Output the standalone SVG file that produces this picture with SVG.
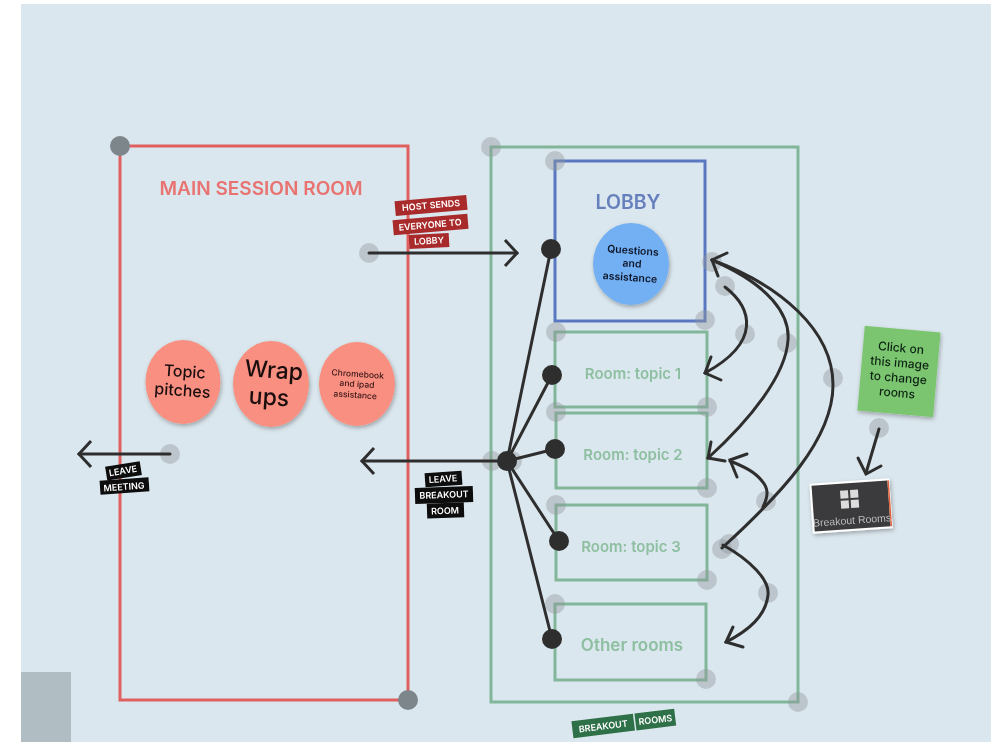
<svg xmlns="http://www.w3.org/2000/svg" width="991" height="742" viewBox="0 0 991 742">
<defs>
<filter id="sh" x="-20%" y="-20%" width="140%" height="140%"><feDropShadow dx="1" dy="2" stdDeviation="2" flood-color="#000" flood-opacity="0.3"/></filter>
<filter id="soft" filterUnits="userSpaceOnUse" x="0" y="0" width="991" height="742"><feGaussianBlur stdDeviation="0.55"/></filter>
<marker id="ah" markerUnits="userSpaceOnUse" markerWidth="34" markerHeight="34" refX="17" refY="17" orient="auto"><path d="M5 4 L17 17 L5 30" fill="none" stroke="#2f2f2f" stroke-width="3"/></marker>
</defs>
<style>
text{font-family:Inter,"Liberation Sans",sans-serif;text-anchor:middle}
.box{fill:none;stroke-width:3}
.g{stroke:#81b798}.r{stroke:#e0605f}
.dot{fill:#8f979c;fill-opacity:.42}
.c{fill:none;stroke:#2f2f2f;stroke-width:3;stroke-linecap:round}
.j{fill:#2f2f2f}
.rt{fill:#8dbfa0;font-size:15px;font-weight:600}
.lb{fill:#fff;font-size:9px;font-weight:600}
.blk{fill:#0a0a0a}.red{fill:#a92a2a}
.cir{fill:#f88f80;filter:url(#sh)}
</style>
<rect width="991" height="742" fill="#fff"/>
<g filter="url(#soft)">
<rect x="21" y="4" width="970" height="738" fill="#dbe7ee"/>
<rect x="21" y="672" width="50" height="70" fill="#b0bec3"/>

<g id="main-room">
<rect class="box r" x="120" y="146" width="288" height="554"/>
<text x="261" y="195" fill="#e8736f" font-size="18" font-weight="600" textLength="203" lengthAdjust="spacingAndGlyphs">MAIN SESSION ROOM</text>
</g>
<g id="topic-pitches"><ellipse class="cir" cx="183" cy="382" rx="37.500" ry="42"/><text transform="rotate(4 182 382)" x="184" y="377" font-size="16" font-weight="500" fill="#1c1010">Topic</text><text transform="rotate(4 182 382)" x="183" y="396" font-size="16" font-weight="500" fill="#1c1010">pitches</text></g>
<g id="wrap-ups"><ellipse class="cir" cx="271" cy="384" rx="38" ry="43"/><text transform="rotate(4 271 384)" x="273" y="378" font-size="23" font-weight="500" fill="#1c1010">Wrap</text><text transform="rotate(4 271 384)" x="270" y="405" font-size="23" font-weight="500" fill="#1c1010">ups</text></g>
<g id="chromebook"><ellipse class="cir" cx="357" cy="384" rx="38" ry="42"/><text transform="rotate(4 357 384)" x="357" y="377" font-size="8.500" font-weight="500" fill="#3a1616">Chromebook</text><text transform="rotate(4 357 384)" x="357" y="387" font-size="8.500" font-weight="500" fill="#3a1616">and ipad</text><text transform="rotate(4 357 384)" x="356" y="398" font-size="8.500" font-weight="500" fill="#3a1616">assistance</text></g>

<g id="breakout-rooms">
<rect class="box g" x="491" y="147" width="307" height="555"/>
<g transform="rotate(-7 623 723)"><rect x="572" y="715" width="62" height="17" fill="#2f6f47"/><rect x="635.500" y="715" width="40" height="17" fill="#2f6f47"/><text class="lb" x="603" y="727">BREAKOUT</text><text class="lb" x="655.500" y="727">ROOMS</text></g>
</g>
<g id="lobby">
<rect class="box" stroke="#5a78c2" x="555" y="161" width="150" height="160"/>
<text x="628" y="209" fill="#6680bd" font-size="19.500" font-weight="600">LOBBY</text>
<ellipse cx="631" cy="264" rx="38" ry="41" fill="#72b0f3" filter="url(#sh)"/>
<g transform="rotate(4 631 264)" fill="#10182c" font-size="10.500" font-weight="600"><text x="632" y="254">Questions</text><text x="632" y="267">and</text><text x="631" y="281">assistance</text></g>
</g>
<g id="room-1"><rect class="box g" x="555" y="332" width="152" height="75"/><text class="rt" x="633" y="379">Room: topic 1</text></g>
<g id="room-2"><rect class="box g" x="556" y="413" width="151" height="75"/><text class="rt" x="633" y="460">Room: topic 2</text></g>
<g id="room-3"><rect class="box g" x="556" y="505" width="151" height="75"/><text class="rt" x="631" y="552">Room: topic 3</text></g>
<g id="other-rooms"><rect class="box g" x="555" y="604" width="151" height="76"/><text class="rt" x="632" y="651" style="font-size:17px">Other rooms</text></g>

<g id="label-host">
<g transform="rotate(-5 431 205)"><rect class="red" x="395" y="198" width="72" height="15"/><text class="lb" x="431" y="208.500">HOST SENDS</text></g>
<g transform="rotate(-5 430 224)"><rect class="red" x="393" y="217" width="75" height="15"/><text class="lb" x="430" y="228">EVERYONE TO</text></g>
<g transform="rotate(-3 429 240)"><rect class="red" x="409" y="234" width="40" height="14"/><text class="lb" x="429" y="244">LOBBY</text></g>
</g>
<g id="label-leave-meeting">
<g transform="rotate(-9 123 471)"><rect class="blk" x="106" y="464" width="35" height="14"/><text class="lb" x="123" y="474">LEAVE</text></g>
<g transform="rotate(-4 124 486)"><rect class="blk" x="100" y="479" width="49" height="14"/><text class="lb" x="124" y="490">MEETING</text></g>
</g>
<g id="label-leave-breakout">
<g transform="rotate(-4 443 479)"><rect class="blk" x="425" y="472" width="37" height="14"/><text class="lb" x="443" y="482">LEAVE</text></g>
<g transform="rotate(-2 444 495)"><rect class="blk" x="415" y="487" width="58" height="16"/><text class="lb" x="444" y="498">BREAKOUT</text></g>
<g transform="rotate(-2 445 510)"><rect class="blk" x="427" y="503" width="37" height="15"/><text class="lb" x="445" y="514">ROOM</text></g>
</g>

<g id="note"><rect x="861" y="329" width="76" height="85" fill="#7cc56f" transform="rotate(5 899 371)" filter="url(#sh)"/>
<g transform="rotate(5 899 371)" fill="#0d2412" font-size="12" font-weight="500"><text x="899" y="352">Click on</text><text x="899" y="367">this image</text><text x="899" y="382">to change</text><text x="899" y="397">rooms</text></g></g>
<g id="breakout-image"><g transform="rotate(-4 851 505)"><rect x="811" y="481" width="80" height="50" fill="#fff" filter="url(#sh)"/><rect x="813" y="483" width="76" height="46" fill="#3a3a3c"/><rect x="889" y="483" width="1.500" height="46" fill="#e0603a"/>
<path d="M841 490h8v8h-8zM851 490h8v8h-8zM841 500h8v8h-8zM851 500h8v8h-8z" fill="#dcdcdc"/>
<text x="851" y="524" fill="#bdbdbd" font-size="10.500" style="font-family:'Liberation Sans',sans-serif">Breakout Rooms</text></g></g>

<g id="handles">
<circle cx="120" cy="146" r="10" fill="#7d868b"/>
<circle cx="408" cy="700" r="10" fill="#7d868b"/>
<circle class="dot" cx="491" cy="147" r="10"/><circle class="dot" cx="555" cy="161" r="10"/><circle class="dot" cx="369" cy="253" r="10"/><circle class="dot" cx="170" cy="454" r="10"/>
<circle class="dot" cx="556" cy="332" r="10"/><circle class="dot" cx="705" cy="320" r="10"/><circle class="dot" cx="712" cy="262" r="10"/><circle class="dot" cx="725" cy="286" r="10"/><circle class="dot" cx="745" cy="334" r="10"/><circle class="dot" cx="787" cy="343" r="10"/><circle class="dot" cx="833" cy="378" r="10"/>
<circle class="dot" cx="707" cy="407" r="10"/><circle class="dot" cx="556" cy="412" r="10"/><circle class="dot" cx="707" cy="488" r="10"/><circle class="dot" cx="556" cy="505" r="10"/><circle class="dot" cx="766" cy="501" r="10"/><circle class="dot" cx="879" cy="428" r="10"/>
<circle class="dot" cx="492" cy="461" r="10"/><circle class="dot" cx="507" cy="461" r="10"/><circle class="dot" cx="512" cy="461" r="10"/>
<circle class="dot" cx="722" cy="549" r="10"/><circle class="dot" cx="729" cy="544" r="10"/><circle class="dot" cx="768" cy="593" r="10"/><circle class="dot" cx="707" cy="580" r="10"/><circle class="dot" cx="555" cy="604" r="10"/><circle class="dot" cx="706" cy="679" r="10"/><circle class="dot" cx="798" cy="702" r="10"/>
</g>

<g id="connectors">
<path class="c" d="M369 253H517" marker-end="url(#ah)"/>
<path class="c" d="M170 454H79" marker-end="url(#ah)"/>
<path class="c" d="M507 461H362" marker-end="url(#ah)"/>
<path class="c" d="M507 461L551 249M507 461L552 375M507 461L555 449M507 461L559 541M507 461L552 639"/>
<path class="c" d="M725 287C752 308 762 342 705 373"/>
<path class="c" d="M712 260C770 285 790 315 788 340C786 375 750 420 708 458"/>
<path class="c" d="M712 260C780 285 833 330 833 385C833 440 780 495 722 548"/>
<path class="c" d="M763 507C769 495 768 488 762 481C755 472 745 467 730 461"/>
<path class="c" d="M723 545C750 560 770 580 768 595C766 615 750 630 726 642"/>
<path class="c" d="M879 429L866 473"/>
<path class="c" d="M727 253L712 260L718 276"/>
<path class="c" d="M711 357L705 373L721 380"/>
<path class="c" d="M711 442L708 458L725 461"/>
<path class="c" d="M747 454L730 460L737 477"/>
<path class="c" d="M733 627L726 642L743 647"/>
<path class="c" d="M858 458L866 474L881 466"/>
</g>
<g id="junctions">
<circle class="j" cx="551" cy="249" r="10"/><circle class="j" cx="552" cy="375" r="10"/><circle class="j" cx="555" cy="449" r="10"/><circle class="j" cx="507" cy="461" r="10"/><circle class="j" cx="559" cy="541" r="10"/><circle class="j" cx="552" cy="639" r="10"/>
</g>
</g>
</svg>
